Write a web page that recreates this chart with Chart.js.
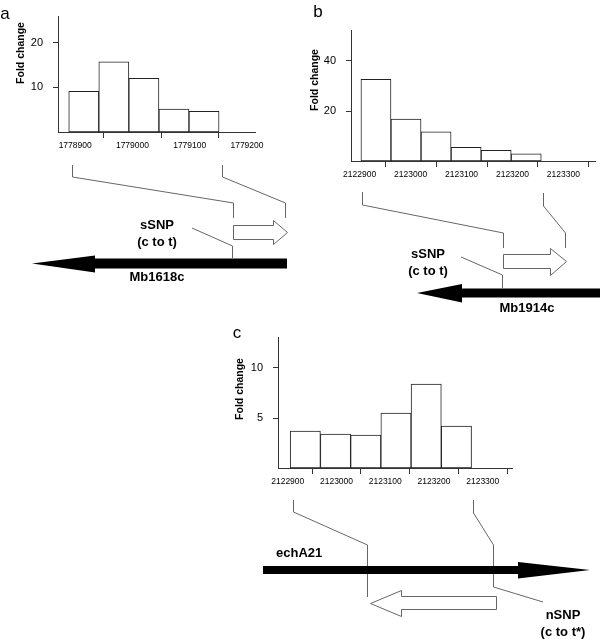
<!DOCTYPE html>
<html>
<head>
<meta charset="utf-8">
<script src="https://cdn.jsdelivr.net/npm/chart.js@4/dist/chart.umd.min.js"></script>
<style>
  body { margin: 0; background: #fff; }
  #page { position: relative; width: 600px; height: 639px; background: #fff; overflow: hidden; }
  #page canvas { position: absolute; }
  #overlay { left: 0; top: 0; z-index: 5; pointer-events: none; }
</style>
</head>
<body>
<div id="page">
  <canvas id="chartA" width="300" height="160" style="left:0;top:0"></canvas>
  <canvas id="chartB" width="300" height="190" style="left:300px;top:0"></canvas>
  <canvas id="chartC" width="320" height="180" style="left:220px;top:320px"></canvas>
  <canvas id="overlay" width="600" height="639"></canvas>
</div>
<script>
// panel a - Mb1618c region
const binsA = [1778915, 1778967.5, 1779020, 1779072.5, 1779125];
const foldA = [9.1, 15.7, 12.0, 5.1, 4.6];
const xTicksA = [1778900, 1779000, 1779100, 1779200];
const yTicksA = [10, 20];

// panel b - Mb1914c region
const binsB = [2122932, 2122991, 2123050, 2123109, 2123168, 2123227];
const foldB = [32.7, 16.8, 11.7, 5.5, 4.3, 2.9];
const xTicksB = [2122900, 2123000, 2123100, 2123200, 2123300];
const yTicksB = [20, 40];

// panel c - echA21 region
const binsC = [2122936, 2122998, 2123060, 2123122, 2123184, 2123246];
const foldC = [3.7, 3.4, 3.3, 5.5, 8.4, 4.2];
const xTicksC = [2122900, 2123000, 2123100, 2123200, 2123300];
const yTicksC = [5, 10];

const FONT = "'Liberation Sans', Arial, sans-serif";
const AXIS = '#333';

const makeHist = (id, bins, fold, xTicks, yTicks, box) => {
  const ctx = document.getElementById(id).getContext('2d');
  return new Chart(ctx, {
    type: 'bar',
    data: {
      datasets: [{
        data: bins.map((x, i) => ({ x: x, y: fold[i] })),
        backgroundColor: '#fff',
        borderColor: '#222',
        borderWidth: 1,
        borderSkipped: false,
        barPercentage: 1,
        categoryPercentage: 1,
      }],
    },
    options: {
      responsive: false,
      animation: false,
      devicePixelRatio: 1,
      layout: { padding: { top: box.top, right: box.right, left: 0, bottom: 0 } },
      plugins: { legend: { display: false }, tooltip: { enabled: false } },
      scales: {
        x: {
          type: 'linear',
          offset: false,
          min: box.xmin,
          max: box.xmax,
          afterBuildTicks: (s) => { s.ticks = xTicks.map((v) => ({ value: v })); },
          afterFit: (s) => { s.height = box.xh; },
          grid: { drawOnChartArea: false, drawTicks: true, tickLength: 6, color: AXIS },
          border: { display: true, color: AXIS, width: 1 },
          ticks: {
            autoSkip: false,
            maxRotation: 0,
            padding: 3,
            color: '#000',
            font: { family: FONT, size: 8.5 },
            callback: (v) => String(v),
          },
        },
        y: {
          min: 0,
          max: box.ymax,
          afterBuildTicks: (s) => { s.ticks = yTicks.map((v) => ({ value: v })); },
          afterFit: (s) => { s.width = box.yw; },
          grid: { drawOnChartArea: false, drawTicks: true, tickLength: 5, color: AXIS },
          border: { display: true, color: AXIS, width: 1 },
          ticks: {
            padding: 10,
            color: '#000',
            font: { family: FONT, size: 11 },
            callback: (v) => String(v),
          },
        },
      },
    },
  });
};

makeHist('chartA', binsA, foldA, xTicksA, yTicksA,
  { top: 2, right: 45, yw: 58, xh: 28, xmin: 1778870, xmax: 1779214, ymax: 25.8 });
makeHist('chartB', binsB, foldB, xTicksB, yTicksB,
  { top: 30, right: 5, yw: 51, xh: 29, xmin: 2122883, xmax: 2123362, ymax: 52.4 });
makeHist('chartC', binsC, foldC, xTicksC, yTicksC,
  { top: 17, right: 28, yw: 58, xh: 32, xmin: 2122880, xmax: 2123360, ymax: 13.1 });

// gene diagrams, panel letters and axis titles
const o = document.getElementById('overlay').getContext('2d');

const poly = (pts, fill, stroke) => {
  o.beginPath();
  o.moveTo(pts[0][0], pts[0][1]);
  pts.slice(1).forEach((p) => o.lineTo(p[0], p[1]));
  if (fill) {
    o.closePath();
    o.fillStyle = fill;
    o.fill();
  }
  if (stroke) {
    o.strokeStyle = stroke;
    o.lineWidth = 1;
    o.stroke();
  }
};

const text = (s, x, y, size, bold, align) => {
  o.font = (bold ? 'bold ' : '') + size + 'px ' + FONT;
  o.fillStyle = '#000';
  o.textAlign = align || 'center';
  o.textBaseline = 'middle';
  o.fillText(s, x, y);
};

const yTitle = (x, y) => {
  o.save();
  o.translate(x, y);
  o.rotate(-Math.PI / 2);
  text('Fold change', 0, 0, 10.5, true);
  o.restore();
};

const LINE = '#666';

text('a', 5, 14, 17, false);
text('b', 318, 12, 17, false);
text('c', 237, 333, 17, false);
yTitle(21, 53);
yTitle(315, 80);
yTitle(240, 389);

// panel a
poly([[72.5, 165], [72.5, 177], [233.5, 203], [233.5, 218]], null, LINE);
poly([[222.5, 165], [222.5, 177], [285.5, 203], [285.5, 218]], null, LINE);
poly([[233.5, 225.5], [273.5, 225.5], [273.5, 220.5], [287.5, 232.5], [273.5, 244.5], [273.5, 239.5], [233.5, 239.5]], '#fff', LINE);
poly([[192, 228], [232.5, 246], [232.5, 258]], null, LINE);
poly([[32, 263.5], [95, 255.5], [95, 258.5], [287, 258.5], [287, 268.5], [95, 268.5], [95, 272.5]], '#000', null);
text('sSNP', 157, 225, 13, true);
text('(c to t)', 157, 242, 13, true);
text('Mb1618c', 157, 277, 13, true);

// panel b
poly([[362.5, 192], [362.5, 205], [503.5, 233], [503.5, 248]], null, LINE);
poly([[543.5, 193], [543.5, 206], [565.5, 233], [565.5, 248]], null, LINE);
poly([[503.5, 254.5], [550.5, 254.5], [550.5, 248.5], [566.5, 261.5], [550.5, 275.5], [550.5, 268.5], [503.5, 268.5]], '#fff', LINE);
poly([[461, 257], [502.5, 275], [502.5, 288]], null, LINE);
poly([[417, 293], [462, 284], [462, 288.5], [600, 288.5], [600, 297.5], [462, 297.5], [462, 302.5]], '#000', null);
text('sSNP', 428, 254, 13, true);
text('(c to t)', 428, 271, 13, true);
text('Mb1914c', 527, 308, 13, true);

// panel c
poly([[293.5, 500], [293.5, 512], [367.5, 545], [367.5, 597]], null, LINE);
poly([[473.5, 500], [473.5, 513], [493.5, 545], [493.5, 587], [543, 602]], null, LINE);
poly([[263, 566], [518, 566], [518, 562], [590, 570], [518, 578.5], [518, 574], [263, 574]], '#000', null);
poly([[370.5, 603.5], [401.5, 590.5], [401.5, 596.5], [496.5, 596.5], [496.5, 609.5], [401.5, 609.5], [401.5, 616.5]], '#fff', LINE);
text('echA21', 276, 553, 13, true, 'left');
text('nSNP', 563, 615, 13, true);
text('(c to t*)', 563, 632, 13, true);
</script>
</body>
</html>
